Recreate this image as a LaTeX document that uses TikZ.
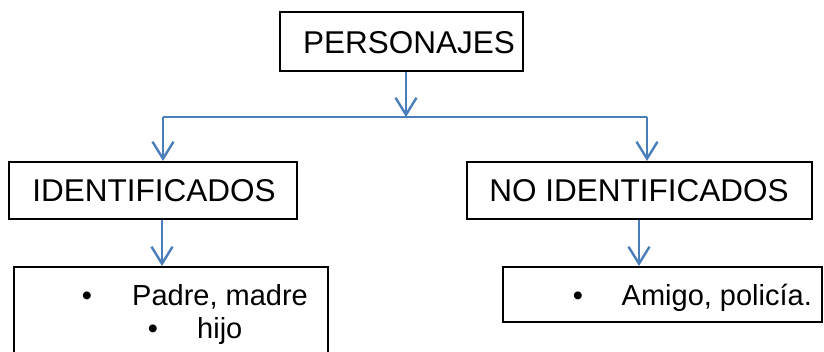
\documentclass[tikz,border=0pt]{standalone}
\usepackage{fontspec}
\setmainfont{Liberation Sans}
\usetikzlibrary{arrows.meta}
\definecolor{arrblue}{RGB}{74,126,187}
\tikzset{
  box/.style={draw=black, line width=2pt, rectangle, inner sep=0pt},
  big/.style={font=\fontsize{31.5}{36}\selectfont, inner sep=0pt},
  small/.style={font=\fontsize{29}{33}\selectfont, inner sep=0pt},
  conn/.style={draw=arrblue, line width=2.4pt},
  arr/.style={conn, -{Straight Barb[length=17pt,width=21pt,line width=2.4pt]}}
}
\begin{document}
\begin{tikzpicture}[x=1pt,y=-1pt]
\useasboundingbox (0,0) rectangle (824,351);
\clip (0,0) rectangle (824,351);
% boxes
\node[box, minimum width=243pt, minimum height=59pt] (top) at (401.5,41.5) {};
\node[box, minimum width=288pt, minimum height=57pt] (idn) at (153,190.5) {};
\node[box, minimum width=345pt, minimum height=57pt] (nidn) at (639.5,190.5) {};
\node[box, minimum width=314pt, minimum height=90pt] (bl) at (171,312) {};
\node[box, minimum width=319pt, minimum height=55pt] (br) at (662.5,294.5) {};
% texts
\node[big, anchor=base] (ttop) at (409,53) {PERSONAJES};
\node[big, anchor=base] (tidn) at (154,201.5) {IDENTIFICADOS};
\node[big, anchor=base] (tnidn) at (639,201.5) {NO IDENTIFICADOS};
\node[small, anchor=base] (b1) at (87,305) {•};
\node[small, anchor=base west] (t1) at (132,305) {Padre, madre};
\node[small, anchor=base] (b2) at (153,338) {•};
\node[small, anchor=base west] (t2) at (197,338) {hijo};
\node[small, anchor=base] (b3) at (578,305) {•};
\node[small, anchor=base west] (t3) at (621.5,305) {Amigo, policía.};
% connectors
\coordinate (j) at (406,117);
\coordinate (jl) at (163,117);
\coordinate (jr) at (647,117);
\draw[arr] (top.south -| j) -- (j);
\draw[conn] (jl) -- (jr);
\draw[arr] (jl) -- (idn.north -| jl);
\draw[arr] (jr) -- (nidn.north -| jr);
\coordinate (dl) at (162,0);
\coordinate (dr) at (639,0);
\draw[arr] (idn.south -| dl) -- (bl.north -| dl);
\draw[arr] (nidn.south -| dr) -- (br.north -| dr);
\end{tikzpicture}
\end{document}
